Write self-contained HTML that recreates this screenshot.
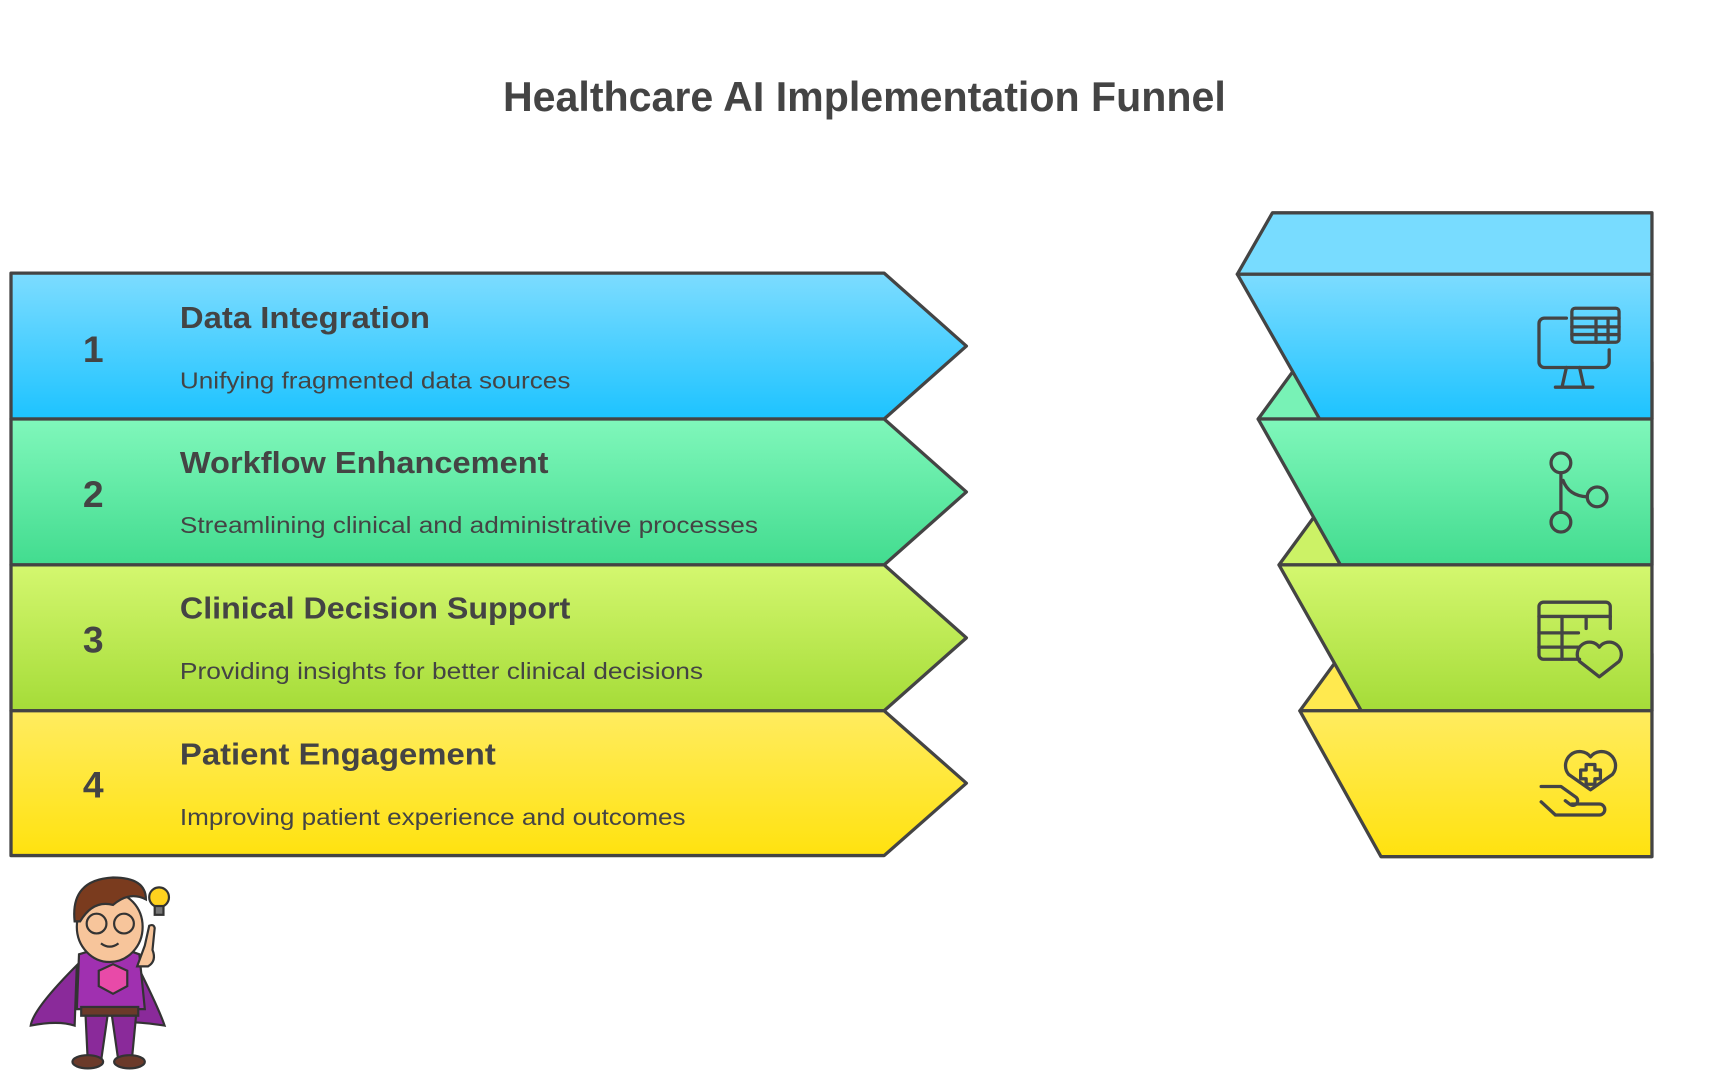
<!DOCTYPE html>
<html><head><meta charset="utf-8"><style>html,body{margin:0;padding:0;background:#fff}svg{display:block}</style></head>
<body>
<svg width="1720" height="1080" viewBox="0 0 1568 984.6" xmlns="http://www.w3.org/2000/svg" font-family="'Liberation Sans', sans-serif" fill="#444">
<defs>
<linearGradient id="gb" x1="0" y1="0" x2="0" y2="1"><stop offset="0" stop-color="#7ddcff"/><stop offset="1" stop-color="#1dc3ff"/></linearGradient>
<linearGradient id="gg" x1="0" y1="0" x2="0" y2="1"><stop offset="0" stop-color="#80f7bb"/><stop offset="1" stop-color="#42dc8f"/></linearGradient>
<linearGradient id="gl" x1="0" y1="0" x2="0" y2="1"><stop offset="0" stop-color="#d4f76f"/><stop offset="1" stop-color="#a5dc38"/></linearGradient>
<linearGradient id="gy" x1="0" y1="0" x2="0" y2="1"><stop offset="0" stop-color="#ffec60"/><stop offset="1" stop-color="#ffe20f"/></linearGradient>
</defs>
<text x="788" y="101" font-size="38" font-weight="bold" text-anchor="middle" textLength="659" lengthAdjust="spacingAndGlyphs">Healthcare AI Implementation Funnel</text>

<g stroke="#444" stroke-width="3" stroke-linejoin="round">
<polygon points="10,249 806,249 881,315.5 806,382 10,382" fill="url(#gb)"/>
<polygon points="10,382 806,382 881,448.5 806,515 10,515" fill="url(#gg)"/>
<polygon points="10,515 806,515 881,581.5 806,648 10,648" fill="url(#gl)"/>
<polygon points="10,648 806,648 881,714 806,780 10,780" fill="url(#gy)"/>
</g>
<g font-weight="bold" font-size="34" text-anchor="middle">
<text x="85" y="330">1</text><text x="85" y="462">2</text><text x="85" y="595">3</text><text x="85" y="727">4</text>
</g>
<g font-weight="bold" font-size="28">
<text x="164" y="299" textLength="228" lengthAdjust="spacingAndGlyphs">Data Integration</text>
<text x="164" y="431" textLength="336" lengthAdjust="spacingAndGlyphs">Workflow Enhancement</text>
<text x="164" y="564" textLength="356" lengthAdjust="spacingAndGlyphs">Clinical Decision Support</text>
<text x="164" y="697" textLength="288" lengthAdjust="spacingAndGlyphs">Patient Engagement</text>
</g>
<g font-size="21">
<text x="164" y="354" textLength="356" lengthAdjust="spacingAndGlyphs">Unifying fragmented data sources</text>
<text x="164" y="486" textLength="527" lengthAdjust="spacingAndGlyphs">Streamlining clinical and administrative processes</text>
<text x="164" y="619" textLength="477" lengthAdjust="spacingAndGlyphs">Providing insights for better clinical decisions</text>
<text x="164" y="752" textLength="461" lengthAdjust="spacingAndGlyphs">Improving patient experience and outcomes</text>
</g>

<g stroke="#444" stroke-width="3" stroke-linejoin="round">
<polygon points="1128,250 1160,194 1506,194 1506,250" fill="#78dcff"/>
<polygon points="1147,382 1185,330 1506,330 1506,382" fill="#78f2b6"/>
<polygon points="1166,515 1204,463 1506,463 1506,515" fill="#ccf266"/>
<polygon points="1185,648 1223,596 1506,596 1506,648" fill="#ffe94f"/>
<polygon points="1128,250 1506,250 1506,382 1203,382" fill="url(#gb)"/>
<polygon points="1147,382 1506,382 1506,515 1222,515" fill="url(#gg)"/>
<polygon points="1166,515 1506,515 1506,648 1241,648" fill="url(#gl)"/>
<polygon points="1185,648 1506,648 1506,781 1259,781" fill="url(#gy)"/>
</g>

<g fill="none" stroke="#444" stroke-width="3" stroke-linecap="round" stroke-linejoin="round">
<!-- monitor -->
<path d="M1428,290 h-20 a5,5 0 0 0 -5,5 v35 a5,5 0 0 0 5,5 h54 a5,5 0 0 0 5,-5 v-11"/>
<path d="M1428,335 l-4,18 M1440,335 l4,18 M1418,353 h34"/>
<rect x="1433" y="281" width="43" height="31" rx="3"/>
<path d="M1433,290 h43 M1433,298 h43 M1433,305 h43 M1455,290 v22 M1466,290 v22"/>
<!-- branch -->
<circle cx="1423" cy="422" r="9"/><circle cx="1423" cy="476" r="9"/><circle cx="1456" cy="453" r="9"/>
<path d="M1423,431 v36 M1425,438 q5,14 22,15"/>
<!-- table heart -->
<path d="M1440,601 h-33 a4,4 0 0 1 -4,-4 v-44 a4,4 0 0 1 4,-4 h57 a4,4 0 0 1 4,4 v20"/>
<path d="M1403,562 h65 M1403,577 h36 M1403,590 h36 M1424,562 v39 M1446,562 v11"/>
<path d="M1458,617 l-18,-14 a8,8 0 0 1 18,-13 a8,8 0 0 1 18,13 z"/>
<!-- hand heart -->
<path d="M1450,720 l-20,-14 a10,10 0 0 1 20,-16 a10,10 0 0 1 20,16 z"/>
<path d="M1446,697 h8 v5 h5 v8 h-5 v5 h-8 v-5 h-5 v-8 h5 z"/>
<path d="M1405,717 h18 l14,10 a4,4 0 0 1 -6,6 l-4,-3"/>
<path d="M1405,731 l13,12 h40 a5,5 0 0 0 0,-10 h-25"/>
</g>

<!-- mascot -->
<g stroke="#333" stroke-width="2">
<path d="M70,880 q-40,40 -42,55 q25,-5 40,0 z" fill="#8a2a9a"/>
<path d="M125,880 q20,40 25,55 q-20,-3 -30,-3 z" fill="#8a2a9a"/>
<path d="M72,870 q30,-10 55,0 l5,50 h-62 z" fill="#a030b0"/>
<path d="M90,885 l13,-6 13,6 v14 l-13,7 -13,-7 z" fill="#e84aa8"/>
<rect x="74" y="918" width="52" height="8" fill="#6b3a2a"/>
<path d="M78,926 h20 l-6,42 h-12 z M102,926 h22 l-4,42 h-12 z" fill="#8a2a9a"/>
<ellipse cx="80" cy="968" rx="14" ry="6" fill="#6b3a2a"/>
<ellipse cx="118" cy="968" rx="14" ry="6" fill="#6b3a2a"/>
<ellipse cx="100" cy="845" rx="30" ry="32" fill="#f7c59b"/>
<path d="M68,840 q-4,-38 35,-40 q30,0 30,20 q-15,-8 -30,5 q-18,-5 -30,15 z" fill="#7a3b1e"/>
<circle cx="88" cy="842" r="9" fill="none"/><circle cx="113" cy="842" r="9" fill="none"/>
<path d="M92,860 q8,6 16,0" fill="none"/>
<path d="M132,862 l4,-18 q4,-2 5,2 l-2,20 q4,10 -4,15 h-10 z" fill="#f7c59b"/>
<circle cx="145" cy="818" r="9" fill="#ffd21e"/>
<rect x="141" y="826" width="8" height="8" fill="#777"/>
</g>
</svg>
</body></html>
